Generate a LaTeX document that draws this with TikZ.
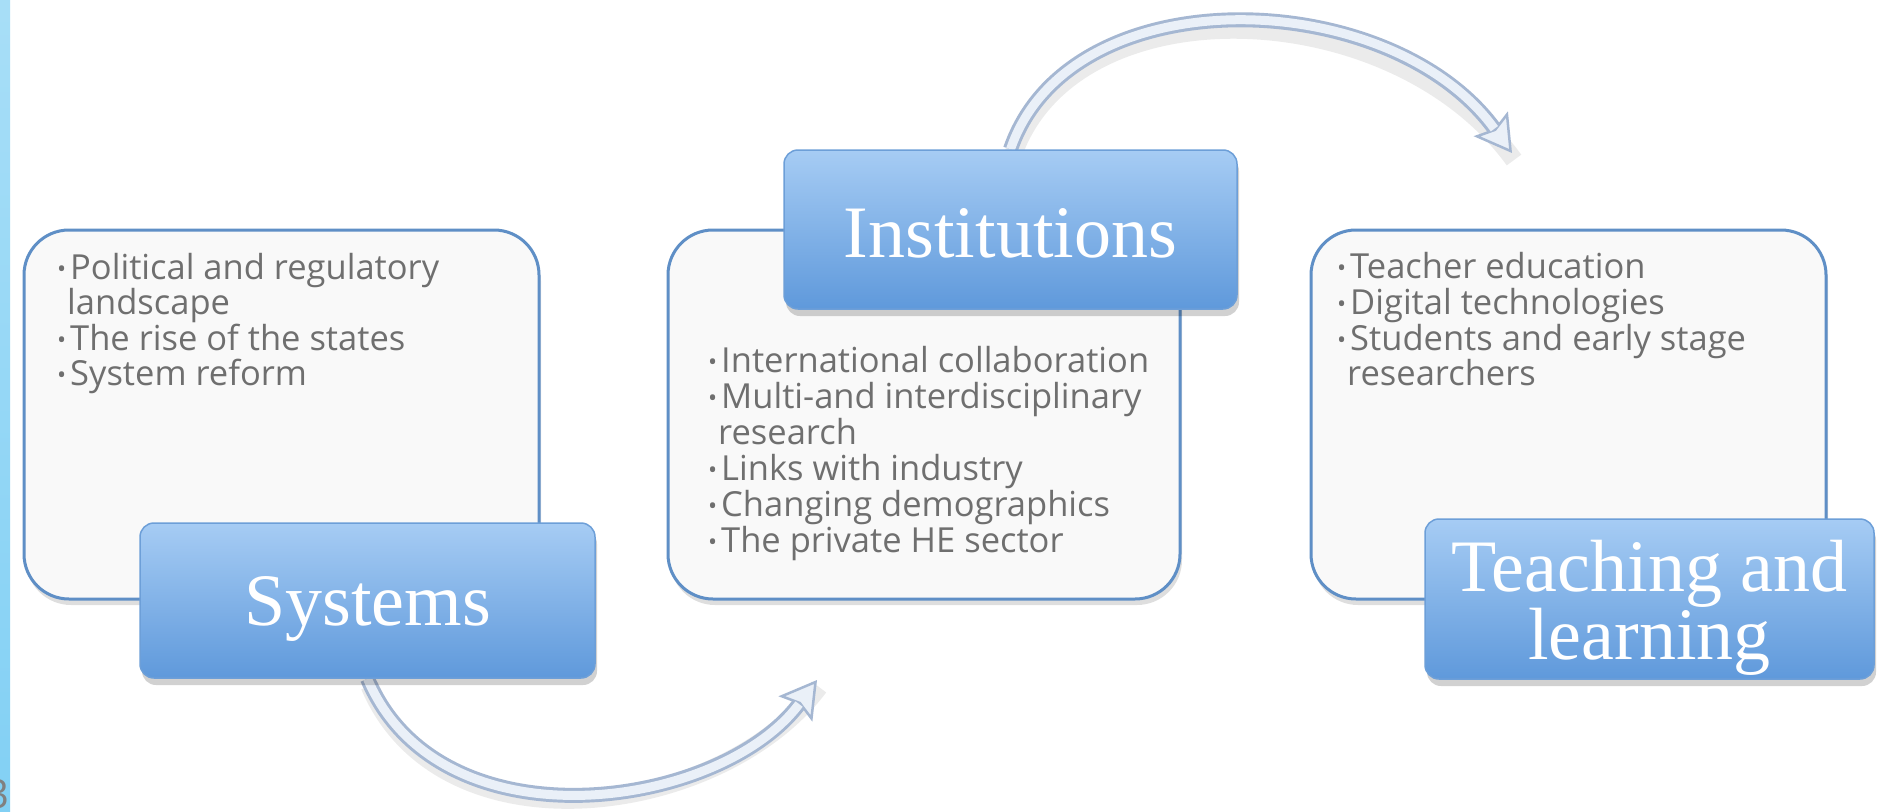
\documentclass[tikz,border=0pt]{standalone}
\usepackage{fontspec}
\setmainfont{Liberation Serif}
\newfontfamily\bodyfont{Open Sans}
\usetikzlibrary{arrows.meta,shadows}
\definecolor{boxedge}{RGB}{95,143,198}
\definecolor{boxfill}{RGB}{249,249,249}
\definecolor{headtop}{RGB}{166,204,244}
\definecolor{headbot}{RGB}{95,153,219}
\definecolor{headedge}{RGB}{109,159,216}
\definecolor{bodytext}{RGB}{111,111,111}
\definecolor{arrowout}{RGB}{165,183,210}
\definecolor{arrowin}{RGB}{234,240,248}
\definecolor{barcol}{RGB}{130,208,244}
\newcommand\bul{\makebox[13pt][l]{\raisebox{2pt}{\scalebox{0.7}{•}}}}
\pgfdeclarelayer{bg}
\pgfsetlayers{bg,main}
\tikzset{
  contentbox/.style={rectangle, rounded corners=45pt, draw=boxedge, line width=3pt,
    fill=boxfill, inner sep=0pt,
    drop shadow={opacity=0.13, shadow xshift=2pt, shadow yshift=-6pt, fill=black}},
  headbox/.style={rectangle, rounded corners=14pt, draw=headedge, line width=1.5pt,
    top color=headtop, bottom color=headbot, inner sep=0pt,
    drop shadow={opacity=0.18, shadow xshift=2pt, shadow yshift=-7pt, fill=black}},
  headtext/.style={text=white, inner sep=0pt, align=center,
    font=\fontsize{74}{66}\selectfont},
  bodyline/.style={anchor=base west, inner sep=0pt, text=bodytext,
    font=\bodyfont\fontsize{34.5}{36}\selectfont},
  arrowshade/.style={draw=black, opacity=0.08, line width=18pt,
    transform canvas={xshift=2pt,yshift=-7pt}},
  arrowbody/.style={draw=arrowout, line width=15pt,
    -{Stealth[length=36pt,width=42pt,inset=6pt,fill=arrowin,line width=2.5pt]}},
  arrowcore/.style={draw=arrowin, line width=9pt, shorten >=30pt}
}
\begin{document}
\begin{tikzpicture}[x=1pt,y=-1pt]
\useasboundingbox (0,0) rectangle (1878,811);
\begin{pgfonlayer}{bg}
\fill[white] (0,0) rectangle (1878,811);
\end{pgfonlayer}
\shade[top color=barcol!70, bottom color=barcol] (0,0) rectangle (10,811);
\begin{scope}
\clip (0,0) rectangle (10,811);
\node[text=gray, font=\bodyfont\fontsize{40}{40}\selectfont, anchor=base west, inner sep=0pt] (pgnum) at (-14,808) {3};
\end{scope}

% content boxes
\node[contentbox, minimum width=515pt, minimum height=369pt] (b1) at (281.5,414.5) {};
\node[contentbox, minimum width=512pt, minimum height=369pt] (b2) at (924,414.5) {};
\node[contentbox, minimum width=515pt, minimum height=369pt] (b3) at (1568.5,414.5) {};

% headers
\node[headbox, minimum width=455pt, minimum height=155pt] (h1) at (367.5,600.5) {};
\node[headbox, minimum width=453pt, minimum height=159pt] (h2) at (1010.5,229.5) {};
\node[headbox, minimum width=449pt, minimum height=160pt] (h3) at (1649.5,599) {};
\node[headtext] (h1t) at ([yshift=-8pt]h1.center) {Systems};
\node[headtext] (h2t) at ([yshift=-4pt]h2.center) {Institutions};
\node[headtext] (h3t) at ([yshift=-9pt]h3.center) {Teaching and\\learning};

% arrow ends
\coordinate (a1end) at (817,680);
\coordinate (a2end) at (1512,153);

\begin{pgfonlayer}{bg}
\draw[arrowshade] (h1.south) .. controls (440,850) and (720,810) .. (a1end);
\draw[arrowbody] (h1.south) .. controls (440,850) and (720,810) .. (a1end);
\draw[arrowcore] (h1.south) .. controls (440,850) and (720,810) .. (a1end);
\draw[arrowshade] (h2.north) .. controls (1070,-25) and (1390,-15) .. (a2end);
\draw[arrowbody] (h2.north) .. controls (1070,-25) and (1390,-15) .. (a2end);
\draw[arrowcore] (h2.north) .. controls (1070,-25) and (1390,-15) .. (a2end);
\end{pgfonlayer}

% texts box 1
\node[bodyline] (t1a) at (57,279) {\bul Political and regulatory};
\node[bodyline] (t1b) at (67,314.5) {landscape};
\node[bodyline] (t1c) at (57,350) {\bul The rise of the states};
\node[bodyline] (t1d) at (57,385.5) {\bul System reform};

% texts box 2
\node[bodyline] (t2a) at (708,372) {\bul International collaboration};
\node[bodyline] (t2b) at (708,408) {\bul Multi-and interdisciplinary};
\node[bodyline] (t2c) at (718,444) {research};
\node[bodyline] (t2d) at (708,480) {\bul Links with industry};
\node[bodyline] (t2e) at (708,516) {\bul Changing demographics};
\node[bodyline] (t2f) at (708,552) {\bul The private HE sector};

% texts box 3
\node[bodyline] (t3a) at (1337,278) {\bul Teacher education};
\node[bodyline] (t3b) at (1337,314) {\bul Digital technologies};
\node[bodyline] (t3c) at (1337,350) {\bul Students and early stage};
\node[bodyline] (t3d) at (1347,385) {researchers};
\end{tikzpicture}
\end{document}
